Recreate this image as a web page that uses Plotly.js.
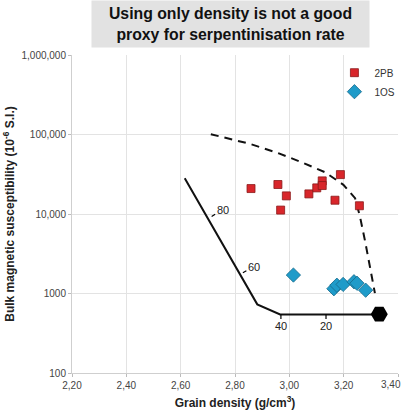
<!DOCTYPE html>
<html>
<head>
<meta charset="utf-8">
<script src="https://cdn.plot.ly/plotly-3.0.1.min.js"></script>
<style>html,body{margin:0;padding:0;background:#fff;}#chart{width:404px;height:418px;}</style>
</head>
<body>
<div id="chart"></div>
<script>
// Data
const pbDensity = [2.859, 2.958, 2.989, 2.968, 3.072, 3.101, 3.121, 3.121, 3.188, 3.168, 3.258];
const pbSusc    = [20900, 23500, 16900, 11200, 17900, 21300, 26100, 22800, 31300, 14900, 12700];

const osDensity = [3.015, 3.164, 3.175, 3.198, 3.238, 3.249, 3.281];
const osSusc    = [1706, 1148, 1271, 1300, 1406, 1346, 1100];

const trendDensity = [2.615, 2.882, 2.966, 3.331];
const trendSusc    = [28200, 730, 546, 546];

const envDensity = [2.711, 2.855, 2.959, 3.039, 3.131, 3.199, 3.242, 3.260, 3.279, 3.297, 3.315];
const envSusc    = [100900, 76200, 58200, 45700, 33600, 23300, 15800, 9300, 4520, 2190, 1010];

const endDensity = [3.331];
const endSusc    = [550];

const pctLabels  = ["80", "60", "40", "20"];
const pctDensity = [2.714, 2.829, 2.969, 3.135];
const pctSusc    = [9300, 1825, 546, 546];

const xTickVals = [2.2, 2.4, 2.6, 2.8, 3.0, 3.2, 3.4];
const xTickText = ["2,20", "2,40", "2,60", "2,80", "3,00", "3,20", "3,40"];
const yTickVals = [100, 1000, 10000, 100000, 1000000];
const yTickText = ["100", "1000", "10,000", "100,000", "1,000,000"];

const FONT = "Liberation Sans, Arial, Helvetica, sans-serif";

const traces = [
  {x: envDensity, y: envSusc, mode: "lines", type: "scatter", showlegend: false, hoverinfo: "skip",
   line: {color: "#111", width: 2, dash: "8px,6px"}},
  {x: trendDensity, y: trendSusc, mode: "lines", type: "scatter", showlegend: false, hoverinfo: "skip",
   line: {color: "#111", width: 2}},
  {x: endDensity, y: endSusc, mode: "markers", type: "scatter", showlegend: false, hoverinfo: "skip",
   marker: {symbol: "hexagon2", size: 17, color: "#000"}},
  {x: pbDensity, y: pbSusc, mode: "markers", type: "scatter", name: "2PB",
   marker: {symbol: "square", size: 8, color: "#d8262b", line: {color: "#8a1a1a", width: 0.8}}},
  {x: osDensity, y: osSusc, mode: "markers", type: "scatter", name: "1OS",
   marker: {symbol: "diamond", size: 11, color: "#1f9bc9", line: {color: "#17698a", width: 0.8}}}
];

const offsets = [[11, -7], [11, -6], [0, 12], [0, 12]];
const annotations = pctLabels.map((t, i) => ({
  x: pctDensity[i], y: Math.log10(pctSusc[i]), xref: "x", yref: "y",
  text: t, showarrow: true, arrowhead: 0, arrowwidth: 1.2, arrowcolor: "#000000",
  ax: offsets[i][0], ay: offsets[i][1], standoff: 0, startstandoff: 0,
  font: {family: FONT, size: 11, color: "#222"}
}));

// last x tick label is drawn right-aligned so it stays inside the picture
const lastIdx = xTickVals.length - 1;
annotations.push({
  x: xTickVals[lastIdx], xref: "x", y: 0, yref: "paper", xanchor: "right", yanchor: "top",
  xshift: 5, yshift: -4, text: xTickText[lastIdx], showarrow: false,
  font: {family: FONT, size: 10, color: "#444"}
});
const axisTickText = xTickText.map((t, i) => (i === lastIdx ? "" : t));

annotations.push({
  xref: "paper", yref: "paper", x: 0.486, y: 1.099, xanchor: "center", yanchor: "middle",
  text: "<b>Using only density is not a good<br>proxy for serpentinisation rate</b>",
  showarrow: false, bgcolor: "#e2e2e2", width: 277, height: 46, borderpad: 0,
  font: {family: FONT, size: 15.8, color: "#111"}
});

const layout = {
  width: 404, height: 418,
  margin: {l: 72, r: 6, t: 55, b: 45, autoexpand: false},
  paper_bgcolor: "#fff", plot_bgcolor: "#fff",
  font: {family: FONT, size: 10, color: "#444"},
  showlegend: true,
  legend: {x: 0.805, y: 0.99, xanchor: "left", yanchor: "top", bgcolor: "rgba(0,0,0,0)",
           font: {family: FONT, size: 10, color: "#333"}, tracegroupgap: 0, itemwidth: 30},
  xaxis: {range: [2.2, 3.4], tickvals: xTickVals, ticktext: axisTickText, automargin: true,
          showgrid: true, gridcolor: "#e3e3e3", gridwidth: 1,
          showline: true, linecolor: "#cfcfcf", linewidth: 1,
          ticks: "outside", ticklen: 3, tickcolor: "#bbb", zeroline: false,
          tickfont: {family: FONT, size: 10, color: "#444"},
          title: {text: "<b>Grain density (g/cm<sup>3</sup>)</b>", standoff: 8,
                  font: {family: FONT, size: 12, color: "#222"}}},
  yaxis: {type: "log", range: [2, 6], tickvals: yTickVals, ticktext: yTickText, automargin: true,
          ticklabeloverflow: "allow",
          showgrid: true, gridcolor: "#e3e3e3", gridwidth: 1,
          showline: true, linecolor: "#cfcfcf", linewidth: 1,
          ticks: "outside", ticklen: 3, tickcolor: "#bbb", zeroline: false,
          tickfont: {family: FONT, size: 10, color: "#444"},
          title: {text: "<b>Bulk magnetic susceptibility (10<sup>-6</sup> S.I.)</b>", standoff: 4,
                  font: {family: FONT, size: 12, color: "#222"}}},
  annotations: annotations
};

Plotly.newPlot("chart", traces, layout, {displayModeBar: false, staticPlot: true});
</script>
</body>
</html>
